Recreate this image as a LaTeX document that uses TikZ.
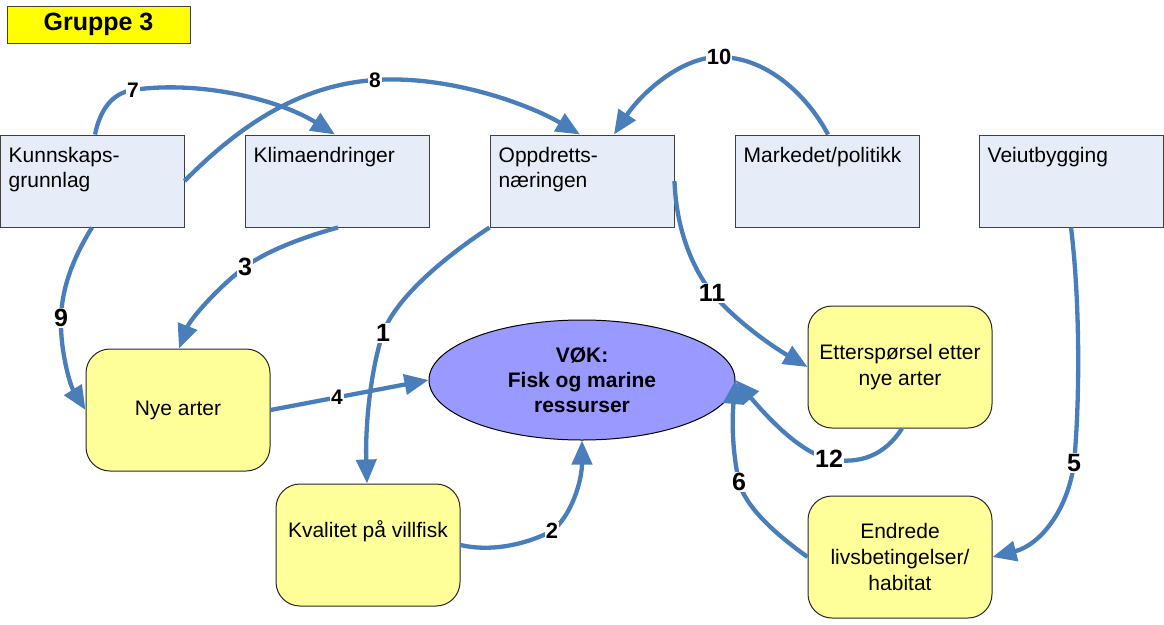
\documentclass[tikz,border=0pt]{standalone}
\usepackage{fontspec}
\setmainfont{Liberation Sans}
\usetikzlibrary{arrows.meta,shapes.geometric}
\definecolor{arr}{HTML}{4A7EBB}
\definecolor{boxblue}{HTML}{E7EDF8}
\definecolor{boxgray}{HTML}{404040}
\definecolor{yel}{HTML}{FFFF99}
\definecolor{vokfill}{HTML}{9999FF}
\definecolor{titley}{HTML}{FFFF00}
\begin{document}
\begin{tikzpicture}[x=1pt,y=-1pt,
  bluebox/.style={draw=boxgray, fill=boxblue, line width=1pt, minimum width=184pt, minimum height=92pt, inner sep=0pt},
  btxt/.style={anchor=base west, align=left, inner sep=0pt, font=\fontsize{21}{25}\selectfont},
  ybox/.style={draw=black!85, fill=yel, line width=1pt, rounded corners=24pt, minimum width=184pt, minimum height=122pt, inner sep=0pt, align=center, font=\fontsize{21}{26}\selectfont},
  ytxt/.style={inner sep=0pt, align=center, font=\fontsize{21}{26}\selectfont},
  conn/.style={draw=arr, line width=4.3pt, -{Triangle[length=24pt,width=20pt]}},
  lbl/.style={fill=white, inner sep=1pt, font=\bfseries\fontsize{21}{23}\selectfont},
  lblm/.style={lbl, font=\bfseries\fontsize{22}{24}\selectfont},
  lblL/.style={lbl, font=\bfseries\fontsize{25}{27}\selectfont},
]
\useasboundingbox (0,0) rectangle (1164,624);

% title
\node[draw=boxgray, fill=titley, line width=1pt, minimum width=183pt, minimum height=37pt, inner sep=0pt,
      font=\bfseries\fontsize{25}{28}\selectfont] (title) at (98.5,24.5) {Gruppe 3};

% top boxes
\node[bluebox] (kunn)  at (92,181) {};
\node[bluebox] (klima) at (337,181) {};
\node[bluebox] (oppd)  at (582,181) {};
\node[bluebox] (mark)  at (827,181) {};
\node[bluebox] (veiu)  at (1071,181) {};
\node[btxt] (kunnT)  at ([shift={(9pt,-53pt)}]kunn.north west)  {Kunnskaps-\\grunnlag};
\node[btxt] (klimaT) at ([shift={(9pt,-28pt)}]klima.north west) {Klimaendringer};
\node[btxt] (oppdT)  at ([shift={(9pt,-53pt)}]oppd.north west)  {Oppdretts-\\næringen};
\node[btxt] (markT)  at ([shift={(9pt,-28pt)}]mark.north west)  {Markedet/politikk};
\node[btxt] (veiuT)  at ([shift={(9pt,-28pt)}]veiu.north west)  {Veiutbygging};

% yellow boxes
\node[ybox] (nye)  at (178,410) {Nye arter};
\node[ybox] (kval) at (368,545) {};
\node[ytxt] (kvalT) at ([yshift=14pt]kval.center) {Kvalitet på villfisk};
\node[ybox] (ett)  at (900,367) {Etterspørsel etter\\nye arter};
\node[ybox] (endr) at (900,557) {Endrede\\livsbetingelser/\\habitat};

% central ellipse
\node[ellipse, draw=black, fill=vokfill, line width=1pt, minimum width=306pt, minimum height=120pt, inner sep=0pt,
      align=center, font=\bfseries\fontsize{21}{25}\selectfont] (vok) at (582,380) {VØK:\\Fisk og marine\\ressurser};

% connectors
\draw[conn] ([xshift=3pt]kunn.north) .. controls (100,110) and (112,93) .. (133,90) node[lbl]{7}
            .. controls (200,80) and (280,100) .. ([xshift=-2pt]klima.north);
\draw[conn] (kunn.east) .. controls (240,125) and (300,85) .. (375,80) node[lbl]{8}
            .. controls (450,75) and (530,105) .. ([xshift=-2pt]oppd.north);
\draw[conn] ([xshift=1pt]mark.north) .. controls (810,100) and (770,57) .. (719,57) node[lblm]{10}
            .. controls (680,57) and (640,95) .. ([xshift=32pt]oppd.north);
\draw[conn] (oppd.south west) .. controls (440,260) and (395,300) .. (383,333) node[lblL]{1}
            .. controls (372,365) and (365,420) .. ([xshift=-1pt]kval.north);
\draw[conn] (kval.east) .. controls (490,552) and (525,545) .. (552,531) node[lblm]{2}
            .. controls (572,515) and (582,480) .. (vok.south);
\draw[conn] ([xshift=1pt]klima.south) .. controls (300,238) and (265,252) .. (245,267) node[lblL]{3}
            .. controls (215,290) and (190,320) .. ([xshift=1pt]nye.north);
\draw[conn] (nye.east) -- node[lbl, pos=0.42]{4} (vok.west);
\draw[conn] (veiu.south) .. controls (1080,300) and (1080,400) .. (1074,463) node[lblL]{5}
            .. controls (1068,510) and (1040,545) .. (endr.east);
\draw[conn] (endr.west) .. controls (770,530) and (745,505) .. (739,482) node[lblL]{6}
            .. controls (732,450) and (732,420) .. (vok.east);
\draw[conn] (oppd.east) .. controls (676,225) and (690,265) .. (712,293) node[lblL]{11}
            .. controls (735,320) and (770,345) .. (ett.west);
\draw[conn] ([xshift=2pt]ett.south) .. controls (885,455) and (860,465) .. (829,459) node[lblL]{12}
            .. controls (800,452) and (770,420) .. (vok.east);
\draw[conn] (kunn.south) .. controls (75,255) and (62,285) .. (61,318) node[lblL]{9}
            .. controls (60,350) and (70,385) .. (nye.west);
\end{tikzpicture}
\end{document}
